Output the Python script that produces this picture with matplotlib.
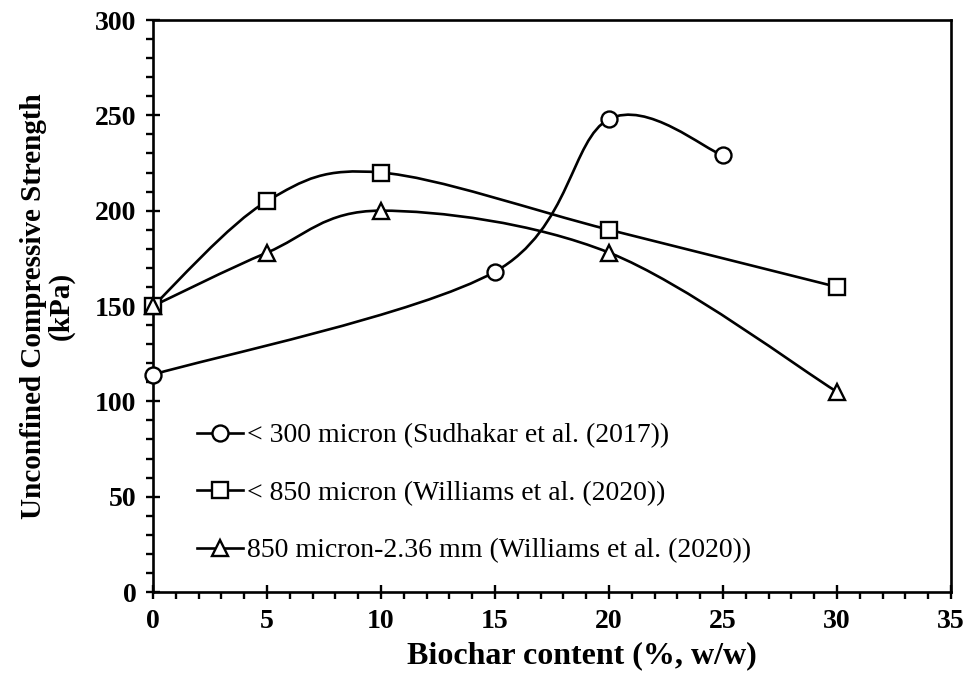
import numpy as np
import matplotlib
matplotlib.use("Agg")
import matplotlib.pyplot as plt
from matplotlib.path import Path
from matplotlib.patches import PathPatch
from matplotlib.lines import Line2D
from matplotlib.ticker import MultipleLocator

plt.rcParams['font.family'] = ['Liberation Serif', 'DejaVu Serif']

# data
x_300 = [0, 15, 20, 25]
y_300 = [114, 168, 248, 229]
x_850 = [0, 5, 10, 20, 30]
y_850 = [150, 205, 220, 190, 160]
x_236 = [0, 5, 10, 20, 30]
y_236 = [150, 178, 200, 178, 105]

labels = ["< 300 micron (Sudhakar et al. (2017))",
          "< 850 micron (Williams et al. (2020))",
          "850 micron-2.36 mm (Williams et al. (2020))"]
markers = ["o", "s", "^"]


def smooth_path(xs, ys):
	# excel style smoothed line: catmull-rom as cubic bezier
	pts = np.column_stack([xs, ys]).astype(float)
	p = np.vstack([pts[0], pts, pts[-1]])
	verts = [tuple(pts[0])]
	codes = [Path.MOVETO]
	for i in range(1, len(p) - 2):
		c1 = p[i] + (p[i + 1] - p[i - 1]) / 6.0
		c2 = p[i + 1] - (p[i + 2] - p[i]) / 6.0
		verts += [tuple(c1), tuple(c2), tuple(p[i + 1])]
		codes += [Path.CURVE4] * 3
	return Path(verts, codes)


fig = plt.figure(figsize=(9.68, 6.76), dpi=100)
ax = fig.add_axes([153 / 968, 1 - 592 / 676, (951 - 153) / 968, (592 - 20) / 676])

series = [(x_300, y_300), (x_850, y_850), (x_236, y_236)]
for (xs, ys), m in zip(series, markers):
	ax.add_patch(PathPatch(smooth_path(xs, ys), facecolor="none", edgecolor="black", lw=1.9, zorder=2))
	ax.plot(xs, ys, linestyle="none", marker=m, markersize=11.5, markerfacecolor="white",
		markeredgecolor="black", markeredgewidth=1.7, zorder=3, clip_on=False)

ax.set_xlim(0, 35)
ax.set_ylim(0, 300)
ax.xaxis.set_major_locator(MultipleLocator(5))
ax.xaxis.set_minor_locator(MultipleLocator(1))
ax.yaxis.set_major_locator(MultipleLocator(50))
ax.yaxis.set_minor_locator(MultipleLocator(10))
ax.tick_params(which="major", direction="inout", length=10, width=1.7, labelsize=20, pad=7)
ax.tick_params(which="minor", direction="out", length=5, width=1.7)
for lab in ax.get_xticklabels() + ax.get_yticklabels():
	lab.set_fontweight("bold")
for s in ax.spines.values():
	s.set_linewidth(1.9)

ax.set_xlabel("Biochar content (%, w/w)", fontsize=23, fontweight="bold")
ax.xaxis.set_label_coords(0.5376, -0.086)
ax.set_ylabel("Unconfined Compressive Strength\n(kPa)", fontsize=21, fontweight="bold",
	linespacing=1.0)
ax.yaxis.set_label_coords(-0.098, 0.5)

handles = [Line2D([], [], color="black", lw=1.9, marker=m, markersize=11.5, markerfacecolor="white",
	markeredgewidth=1.7) for m in markers]
ax.legend(handles, labels, loc="lower left", bbox_to_anchor=(0.055, 0.05), frameon=False,
	fontsize=20, handlelength=1.65, handletextpad=0.15, labelspacing=1.15, borderaxespad=0,
	borderpad=0)

fig.savefig("out.png", dpi=100)
